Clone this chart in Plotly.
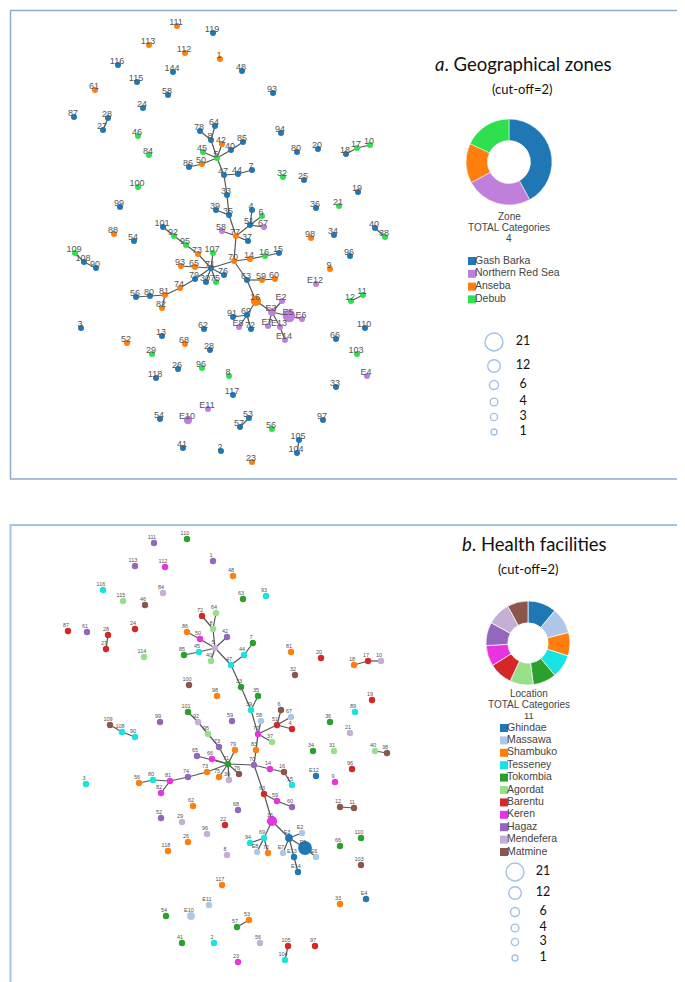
import plotly.graph_objects as go

W, H = 685, 982

# ---------------- Panel a: geographical zones ----------------
a_keys = ["111", "119", "113", "112", "1", "116", "144", "48", "115", "61",
          "58", "93", "24", "87", "28", "27", "46", "84", "78", "64",
          "8", "42", "85", "45", "40", "5", "86", "50", "47", "44",
          "7", "94", "80", "20", "18", "17", "10", "32", "25", "100",
          "19", "33", "99", "36", "21", "39", "35", "4", "6", "51",
          "67", "88", "101", "92", "54", "58_2", "77", "37", "98", "34",
          "40_2", "38", "95", "109", "108", "90", "73", "107", "93_2", "65",
          "71", "76", "79", "30", "75", "70", "14", "16", "15", "96",
          "63", "59", "60", "9", "E12", "74", "56", "80_2", "81", "82",
          "16_2", "E2", "E3", "E5", "E6", "91", "69", "E8", "72", "E7",
          "E13", "E14", "12", "11", "3", "62", "110", "13", "52", "68",
          "28_2", "66", "29", "103", "26", "96_2", "8_2", "118", "E4", "33_2",
          "117", "E11", "54_2", "E10", "53", "57", "56_2", "97", "105", "104",
          "41", "2", "23"]
a_x = [169, 205, 141, 177, 212, 110, 165, 234, 129, 87,
       160, 265, 135, 66, 100, 95, 130, 141, 192, 207,
       203, 214, 235, 195, 223, 209, 181, 194, 216, 230,
       244, 273, 289, 310, 338, 349, 362, 275, 296, 130,
       350, 219, 112, 308, 331, 208, 221, 244, 254, 242,
       256, 106, 155, 166, 126, 214, 228, 240, 303, 326,
       367, 377, 178, 67, 76, 88, 190, 205, 173, 187,
       203, 216, 187, 198, 208, 226, 242, 257, 271, 342,
       239, 254, 267, 322, 308, 172, 128, 142, 157, 154,
       248, 274, 264, 281, 294, 225, 239, 231, 243, 260,
       272, 277, 343, 355, 73, 196, 357, 154, 119, 177,
       202, 328, 144, 349, 170, 194, 221, 148, 359, 328,
       225, 200, 152, 180, 241, 232, 264, 315, 291, 289,
       175, 213, 244]
a_y = [18, 25, 37, 45, 51, 57, 64, 63, 74, 82,
       87, 85, 100, 109, 110, 122, 128, 147, 123, 118,
       132, 136, 134, 144, 142, 150, 159, 156, 167, 166,
       162, 125, 144, 141, 146, 140, 137, 169, 172, 179,
       184, 187, 199, 200, 198, 202, 207, 202, 208, 217,
       219, 226, 219, 228, 233, 223, 228, 233, 230, 227,
       220, 229, 237, 245, 254, 260, 246, 245, 258, 259,
       260, 267, 271, 274, 274, 253, 251, 248, 245, 248,
       272, 272, 271, 261, 276, 280, 289, 288, 287, 300,
       293, 293, 304, 308, 311, 309, 307, 319, 321, 318,
       319, 332, 293, 287, 320, 321, 320, 328, 335, 336,
       342, 331, 346, 346, 361, 360, 368, 370, 368, 379,
       387, 401, 411, 412, 410, 419, 421, 412, 432, 445,
       440, 443, 454]
a_zone = ["A", "B", "A", "A", "A", "B", "B", "B", "B", "A",
          "B", "B", "B", "B", "B", "B", "D", "D", "B", "B",
          "B", "A", "B", "D", "B", "D", "B", "A", "B", "B",
          "B", "B", "B", "B", "B", "D", "D", "D", "B", "D",
          "B", "B", "B", "B", "D", "B", "B", "B", "D", "B",
          "N", "A", "B", "D", "B", "N", "A", "B", "A", "B",
          "B", "D", "D", "D", "B", "B", "A", "D", "A", "A",
          "B", "B", "B", "B", "D", "A", "A", "D", "B", "B",
          "B", "A", "A", "A", "N", "A", "B", "B", "A", "A",
          "A", "N", "N", "N", "N", "B", "B", "N", "B", "N",
          "N", "N", "D", "D", "B", "B", "B", "B", "A", "A",
          "B", "B", "D", "D", "B", "D", "D", "B", "N", "B",
          "B", "N", "B", "N", "B", "B", "D", "B", "B", "B",
          "B", "B", "A"]
a_count = {"16_2": 8, "E3": 4, "E5": 12, "E10": 5}
a_edges = [("28", "27"), ("18", "17"), ("17", "10"), ("40_2", "38"), ("109", "108"),
           ("108", "90"), ("12", "11"), ("53", "57"), ("105", "104"),
           ("5", "8"), ("8", "78"), ("8", "64"), ("5", "42"), ("5", "40"), ("40", "85"),
           ("5", "45"), ("5", "50"), ("50", "86"), ("5", "47"), ("47", "44"), ("44", "7"),
           ("47", "33"), ("33", "35"), ("35", "39"), ("35", "77"), ("77", "58_2"),
           ("77", "37"), ("77", "51"), ("51", "4"), ("51", "6"), ("51", "67"), ("77", "70"),
           ("70", "14"), ("14", "16"), ("16", "15"), ("70", "71"), ("70", "63"),
           ("63", "59"), ("59", "60"), ("63", "16_2"), ("16_2", "69"), ("69", "91"),
           ("69", "E8"), ("69", "72"), ("16_2", "E3"), ("E3", "E2"), ("E3", "E5"),
           ("E5", "E6"), ("E3", "E7"), ("E3", "E13"), ("E13", "E14"),
           ("71", "107"), ("71", "73"), ("73", "95"), ("95", "92"), ("92", "101"),
           ("71", "65"), ("65", "93_2"), ("71", "76"), ("71", "79"), ("79", "74"),
           ("74", "81"), ("81", "80_2"), ("80_2", "56"), ("81", "82"), ("71", "30"),
           ("71", "75")]

zone_codes = ["B", "N", "A", "D"]
zone_names = ["Gash Barka", "Northern Red Sea", "Anseba", "Debub"]
zone_colors = ["#1f77b4", "#bf7fdb", "#ff7f0e", "#2ee04e"]
zone_share = [42, 25, 15, 18]

# ---------------- Panel b: health facilities ----------------
b_keys = ["111", "110", "113", "112", "1", "48", "116", "115", "84", "46",
          "63", "93", "72", "64", "8", "87", "61", "28", "27", "24",
          "86", "50", "42", "5", "7", "44", "85", "45", "40", "47",
          "114", "81", "20", "18", "17", "10", "32", "100", "33", "98",
          "35", "19", "39", "58", "6", "67", "51", "4", "36", "89",
          "21", "109", "108", "90", "99", "101", "92", "95", "59", "77",
          "37", "73", "79", "83", "34", "31", "40_2", "38", "65", "66",
          "71", "70", "14", "16", "15", "E12", "9", "96", "76", "75",
          "30", "73_2", "74", "81_2", "80", "56", "82", "3", "63_2", "59_2",
          "60", "12", "11", "62", "68", "52", "29", "22", "16_2", "96_2",
          "69", "94", "E8", "72_2", "E3", "E2", "E5", "E6", "E7", "E13",
          "E14", "118", "26", "8_2", "66_2", "110_2", "103", "117", "E11", "E10",
          "54", "53", "57", "33_2", "E4", "41", "2", "56_2", "105", "104",
          "97", "23"]
b_x = [146, 179, 127, 157, 205, 225, 95, 115, 155, 137,
       235, 258, 194, 208, 205, 60, 79, 100, 98, 127,
       179, 192, 219, 207, 245, 236, 176, 191, 203, 223,
       136, 283, 313, 346, 360, 373, 287, 181, 233, 209,
       250, 364, 243, 253, 273, 283, 269, 284, 322, 347,
       342, 102, 114, 127, 152, 180, 190, 200, 224, 250,
       264, 211, 227, 248, 305, 326, 367, 379, 189, 204,
       220, 246, 262, 276, 284, 308, 327, 344, 231, 211,
       221, 199, 180, 162, 145, 131, 153, 78, 256, 269,
       284, 332, 346, 185, 230, 153, 174, 217, 264, 199,
       256, 242, 249, 260, 281, 294, 297, 308, 275, 286,
       290, 160, 180, 219, 332, 353, 353, 214, 201, 183,
       158, 241, 229, 332, 358, 174, 206, 252, 280, 277,
       307, 230]
b_y = [535, 531, 558, 559, 553, 568, 582, 593, 585, 597,
       591, 588, 608, 605, 621, 623, 624, 627, 641, 621,
       624, 631, 629, 640, 635, 647, 647, 644, 653, 657,
       649, 644, 650, 657, 653, 653, 667, 677, 679, 688,
       688, 692, 702, 713, 702, 709, 717, 721, 714, 704,
       725, 717, 724, 729, 714, 704, 714, 726, 713, 726,
       734, 739, 742, 742, 743, 743, 743, 745, 748, 751,
       756, 757, 761, 764, 777, 768, 774, 761, 766, 769,
       772, 764, 769, 773, 772, 775, 785, 776, 786, 793,
       799, 799, 800, 798, 802, 810, 814, 817, 813, 826,
       830, 835, 844, 845, 830, 825, 840, 849, 845, 849,
       864, 843, 834, 847, 838, 830, 857, 877, 897, 908,
       908, 912, 919, 896, 891, 935, 935, 935, 938, 952,
       938, 954]
b_loc = ["Ha", "To", "Ha", "Ke", "Ha", "Sh", "Te", "Ag", "Me", "Mt",
         "To", "Te", "Ba", "Ag", "Ag", "Ba", "Ha", "Ba", "Ba", "Ba",
         "Sh", "Ke", "Ha", "Me", "To", "Te", "To", "Te", "Ag", "Te",
         "Ag", "Sh", "Ba", "Sh", "Ba", "Me", "Mt", "Mt", "To", "Sh",
         "To", "Ba", "Te", "Ma", "Mt", "Ma", "Ba", "Ba", "To", "Te",
         "Me", "Mt", "Te", "Te", "Ha", "To", "Me", "Ag", "Ha", "Ke",
         "Ag", "Ha", "Sh", "Sh", "To", "Ag", "Ag", "Mt", "Ha", "Ke",
         "To", "Ha", "Ke", "Mt", "Te", "Gh", "Ke", "Ba", "Mt", "Sh",
         "Me", "Sh", "Ha", "Ke", "Te", "Sh", "Ke", "Te", "Ba", "Ke",
         "Ha", "Mt", "Mt", "Sh", "Ha", "Ha", "Me", "Ba", "Ke", "Me",
         "Te", "Te", "Ma", "Sh", "Gh", "Ma", "Gh", "Ma", "Ma", "Gh",
         "Gh", "Sh", "Sh", "Me", "To", "To", "Mt", "Sh", "Ma", "Ma",
         "To", "Sh", "To", "Sh", "Gh", "To", "Te", "Me", "Ba", "Te",
         "Ba", "Ke"]
b_count = {"16_2": 8, "E3": 4, "E5": 14, "E10": 4}
b_edges = [("28", "27"), ("18", "17"), ("17", "10"), ("40_2", "38"), ("109", "108"),
           ("108", "90"), ("12", "11"), ("53", "57"), ("105", "104"),
           ("5", "8"), ("8", "72"), ("8", "64"), ("5", "50"), ("50", "86"), ("5", "42"),
           ("5", "45"), ("45", "85"), ("5", "40"), ("5", "47"), ("47", "44"), ("44", "7"),
           ("47", "33"), ("33", "39"), ("39", "35"), ("39", "77"), ("77", "58"),
           ("77", "37"), ("77", "51"), ("51", "6"), ("51", "67"), ("51", "4"),
           ("77", "83"), ("83", "70"),
           ("70", "71"), ("70", "14"), ("14", "16"), ("16", "15"), ("70", "63_2"),
           ("63_2", "59_2"), ("59_2", "60"), ("63_2", "16_2"), ("16_2", "69"),
           ("69", "94"), ("69", "E8"), ("69", "72_2"), ("16_2", "E3"), ("E3", "E2"),
           ("E3", "E5"), ("E5", "E6"), ("E3", "E7"), ("E3", "E13"), ("E13", "E14"),
           ("71", "65"), ("71", "66"), ("71", "79"), ("71", "73"), ("73", "95"),
           ("95", "92"), ("92", "101"), ("71", "73_2"), ("73_2", "74"), ("74", "81_2"),
           ("81_2", "80"), ("80", "56"), ("81_2", "82"), ("71", "75"), ("71", "30"),
           ("71", "76")]

loc_codes = ["Gh", "Ma", "Sh", "Te", "To", "Ag", "Ba", "Ke", "Ha", "Me", "Mt"]
loc_names = ["Ghindae", "Massawa", "Shambuko", "Tesseney", "Tokombia", "Agordat",
             "Barentu", "Keren", "Hagaz", "Mendefera", "Matmine"]
loc_colors = ["#1f77b4", "#aec7e8", "#ff7f0e", "#17e3e3", "#2ca02c", "#98df8a",
              "#d62728", "#e834e0", "#9467bd", "#c5b0d5", "#8c564b"]
loc_share = [11, 10, 9, 9, 9, 9, 9, 8, 9, 9, 8]

size_legend = [21, 12, 6, 4, 3, 1]


def diam(c):
    return 5.4 + 0.6 * c


fig = go.Figure()


def add_network(keys, xs, ys, cats, codes, colors, counts, edges, lblsize, dx, dy, base):
    pos = {k: (x, y) for k, x, y in zip(keys, xs, ys)}
    ex, ey = [], []
    for a, b in edges:
        ex += [pos[a][0], pos[b][0], None]
        ey += [pos[a][1], pos[b][1], None]
    fig.add_trace(go.Scatter(x=ex, y=ey, mode="lines", hoverinfo="skip",
                             line=dict(color="#555555", width=1.2), showlegend=False))
    cmap = dict(zip(codes, colors))
    fig.add_trace(go.Scatter(
        x=xs, y=ys, mode="markers", showlegend=False,
        marker=dict(color=[cmap[c] for c in cats],
                    size=[diam(counts.get(k, base)) for k in keys],
                    line=dict(width=0), opacity=1)))
    fig.add_trace(go.Scatter(
        x=[x + dx for x in xs], y=[y + dy for y in ys], mode="text",
        text=[k.split("_")[0] for k in keys], showlegend=False, hoverinfo="skip",
        textfont=dict(family="Liberation Sans, Arial", size=lblsize, color="#555555")))


add_network(a_keys, a_x, a_y, a_zone, zone_codes, zone_colors, a_count, a_edges,
            9, -1, -3, 1)
add_network(b_keys, b_x, b_y, b_loc, loc_codes, loc_colors, b_count, b_edges,
            5.5, -2, -5, 1.6)


def dom(cx, cy, r):
    return dict(x=[(cx - r) / W, (cx + r) / W], y=[1 - (cy + r) / H, 1 - (cy - r) / H])


fig.add_trace(go.Pie(values=zone_share, labels=zone_names, marker=dict(colors=zone_colors,
                     line=dict(color="white", width=0.5)), hole=0.5, sort=False,
                     direction="clockwise", textinfo="none", showlegend=False,
                     domain=dom(501, 154, 43)))
fig.add_trace(go.Pie(values=loc_share, labels=loc_names, marker=dict(colors=loc_colors,
                     line=dict(color="white", width=0.7)), hole=0.48, sort=False,
                     direction="clockwise", textinfo="none", showlegend=False,
                     domain=dom(520, 635, 42)))

annots = []
shapes = []
FONT = "Liberation Sans, Arial"


def legend_block(names, colors, sx, y0, step):
    ys = [y0 + i * step for i in range(len(names))]
    fig.add_trace(go.Scatter(x=[sx] * len(names), y=ys, mode="markers", showlegend=False,
                             marker=dict(symbol="square", size=8, color=colors, line=dict(width=0))))
    fig.add_trace(go.Scatter(x=[sx + 3] * len(names), y=ys, mode="text", text=names,
                             textposition="middle right", showlegend=False,
                             textfont=dict(family=FONT, size=10.5, color="#444444")))


def size_block(cx, y_list, tx):
    fig.add_trace(go.Scatter(x=[cx] * len(size_legend), y=y_list, mode="markers",
                             showlegend=False,
                             marker=dict(symbol="circle-open", size=[diam(c) for c in size_legend],
                                         color="#7aa6dc", line=dict(width=1.4, color="#7aa6dc"))))
    fig.add_trace(go.Scatter(x=[tx] * len(size_legend), y=y_list, mode="text",
                             text=[str(c) for c in size_legend], textposition="middle center",
                             showlegend=False,
                             textfont=dict(family="Lato, Liberation Sans", size=12.5, color="#111111")))


legend_block(zone_names, zone_colors, 464, 253, 12.8)
legend_block(loc_names, loc_colors, 496, 720, 12.4)
size_block(486, [334, 358, 377, 394, 409, 424], 515)
size_block(507, [864, 885, 904, 920, 934, 950], 535)


def txt(x, y, s, size, color="#444444", family=FONT):
    annots.append(dict(x=x, y=y, xref="x", yref="y", text=s, showarrow=False,
                       font=dict(family=family, size=size, color=color),
                       xanchor="center", yanchor="middle"))


txt(515, 56, "<i>a</i>. Geographical zones", 18.5, "#111111", "Lato, Liberation Sans")
txt(514, 81, "(cut-off=2)", 13, "#111111", "Lato, Liberation Sans")
txt(501, 208, "Zone", 10)
txt(501, 219, "TOTAL Categories", 10)
txt(501, 230, "4", 10)

txt(526, 536, "<i>b</i>. Health facilities", 18.5, "#111111", "Lato, Liberation Sans")
txt(520, 561, "(cut-off=2)", 13, "#111111", "Lato, Liberation Sans")
txt(521, 685, "Location", 10)
txt(521, 696, "TOTAL Categories", 10)
txt(521, 707, "11", 9.5)

shapes.append(dict(type="rect", xref="x", yref="y", x0=2.5, x1=676.5, y0=2.5, y1=471,
                   line=dict(color="#8faacb", width=1.5)))
shapes.append(dict(type="rect", xref="x", yref="y", x0=2.5, x1=683, y0=517, y1=979.5,
                   line=dict(color="#a4c4e6", width=2)))

fig.update_layout(width=W, height=H, margin=dict(l=0, r=0, t=0, b=0),
                  paper_bgcolor="white", plot_bgcolor="white",
                  xaxis=dict(range=[0, W], visible=False, fixedrange=True),
                  yaxis=dict(range=[H, 0], visible=False, fixedrange=True),
                  annotations=annots, shapes=shapes, showlegend=False)

fig.write_html("out.html")
